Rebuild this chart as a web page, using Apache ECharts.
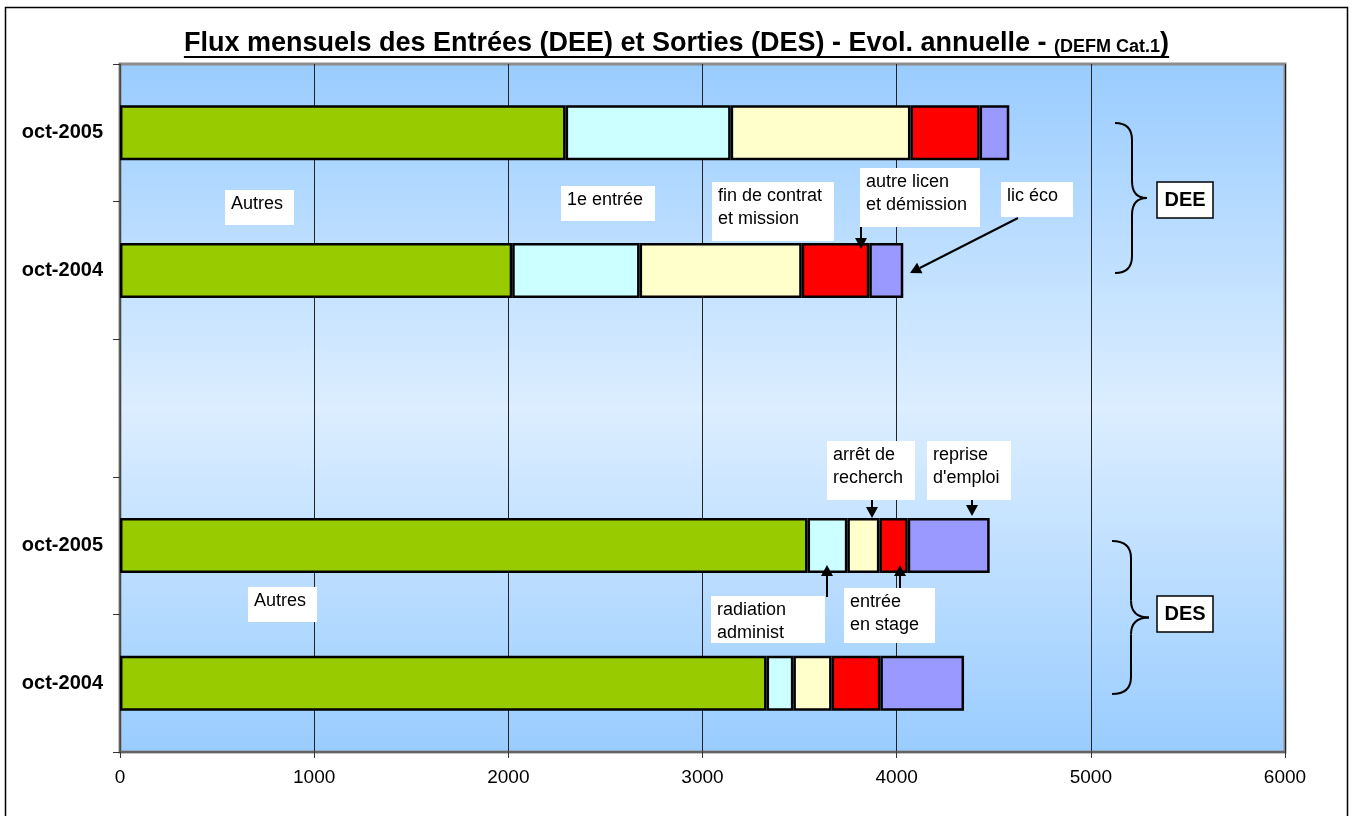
<!DOCTYPE html>
<html>
<head>
<meta charset="utf-8">
<script src="https://cdn.jsdelivr.net/npm/echarts@6/dist/echarts.min.js"></script>
<style>
html,body{margin:0;padding:0;background:#fff;}
#chart{width:1353px;height:816px;}
</style>
</head>
<body>
<div id="chart"></div>
<script>
// ---- data (bottom to top) ----
const categories = ['DES|oct-2004', 'DES|oct-2005', '|', 'DEE|oct-2004', 'DEE|oct-2005'];
const autres     = [3330, 3541, null, 2020, 2295];
const segment2   = [138, 205, null, 656, 850];   // radiation administ / 1e entrée
const segment3   = [197, 165, null, 835, 926];   // arrêt de recherch / fin de contrat et mission
const segment4   = [251, 146, null, 348, 356];   // entrée en stage / autre licen et démission
const segment5   = [431, 422, null, 175, 153];   // reprise d'emploi / lic éco
const xTicks     = [0, 1000, 2000, 3000, 4000, 5000, 6000];

const seriesDefs = [
  {name: 'Autres', data: autres, color: '#99CC00'},
  {name: 'Segment 2', data: segment2, color: '#CCFFFF'},
  {name: 'Segment 3', data: segment3, color: '#FFFFCC'},
  {name: 'Segment 4', data: segment4, color: '#FF0000'},
  {name: 'Segment 5', data: segment5, color: '#9999FF'}
];

const FONT = '"Liberation Sans", Arial, sans-serif';
const chart = echarts.init(document.getElementById('chart'), null, {renderer: 'canvas'});

// measure text for title/underline
const mctx = document.createElement('canvas').getContext('2d');
function tw(text, font) { mctx.font = font; return mctx.measureText(text).width; }

const titleMain = 'Flux mensuels des Entrées (DEE) et Sorties (DES) - Evol. annuelle - ';
const titleSmall = '(DEFM Cat.1';
const titleEnd = ')';
const sMain = 27, sSmall = 18;
const fMain = 'bold ' + sMain + 'px ' + FONT;
const fSmall = 'bold ' + sSmall + 'px ' + FONT;
const wMain = tw(titleMain, fMain), wSmall = tw(titleSmall, fSmall), wEnd = tw(titleEnd, fMain);
const tTotal = wMain + wSmall + wEnd;
const tX = 1353 / 2 - tTotal / 2;
const tBase = 53;

const graphics = [];
// outer border
graphics.push({type: 'rect', shape: {x: 5.5, y: 7.5, width: 1342, height: 830}, style: {fill: 'none', stroke: '#000', lineWidth: 1.5}, silent: true});
// title pieces
function ttext(x, text, font, size) {
  graphics.push({type: 'text', x: x, y: tBase - 0.35 * size, style: {text: text, font: font, fill: '#000', verticalAlign: 'middle', align: 'left'}});
}
ttext(tX, titleMain, fMain, sMain);
ttext(tX + wMain, titleSmall, fSmall, sSmall);
ttext(tX + wMain + wSmall, titleEnd, fMain, sMain);
graphics.push({type: 'line', shape: {x1: tX, y1: tBase + 4, x2: tX + tTotal, y2: tBase + 4}, style: {stroke: '#000', lineWidth: 2}});

// annotation boxes
const annFont = '18px ' + FONT;
const boxes = [
  [225, 190, 294, 225, 'Autres'],
  [561, 186, 655, 221, '1e entrée'],
  [712, 182, 834, 241, 'fin de contrat\net mission'],
  [860, 168, 980, 227, 'autre licen\net démission'],
  [1001, 182, 1073, 217, 'lic éco'],
  [827, 441, 915, 500, 'arrêt de\nrecherch'],
  [927, 441, 1011, 500, "reprise\nd'emploi"],
  [711, 596, 825, 643, 'radiation\nadminist'],
  [844, 588, 935, 643, 'entrée\nen stage'],
  [248, 587, 317, 622, 'Autres']
];
boxes.forEach(b => {
  graphics.push({type: 'rect', shape: {x: b[0], y: b[1], width: b[2] - b[0], height: b[3] - b[1]}, style: {fill: '#fff'}, z: 10});
  graphics.push({type: 'text', x: b[0] + 6, y: b[1] + 3, z: 11, style: {text: b[4], font: annFont, fill: '#000', lineHeight: 23, verticalAlign: 'top', align: 'left'}});
});

// arrows
function arrow(x1, y1, x2, y2) {
  const ang = Math.atan2(y2 - y1, x2 - x1);
  const L = 11, W = 6;
  const bx = x2 - L * Math.cos(ang), by = y2 - L * Math.sin(ang);
  const px = -Math.sin(ang) * W, py = Math.cos(ang) * W;
  graphics.push({type: 'line', z: 12, shape: {x1: x1, y1: y1, x2: bx, y2: by}, style: {stroke: '#000', lineWidth: 2}});
  graphics.push({type: 'polygon', z: 12, shape: {points: [[x2, y2], [bx + px, by + py], [bx - px, by - py]]}, style: {fill: '#000'}});
}
arrow(861, 227, 861, 249);
arrow(1018, 218, 910, 273);
arrow(872, 500, 872, 518);
arrow(972, 500, 972, 516);
arrow(827, 597, 827, 565);
arrow(900, 588, 900, 565);

// braces
function brace(xEnd, yTop, yBot, xBar, xTip) {
  const yMid = (yTop + yBot) / 2, r = 17;
  const st = {fill: 'none', stroke: '#000', lineWidth: 2};
  graphics.push({type: 'bezierCurve', z: 12, shape: {x1: xEnd, y1: yTop, cpx1: xBar, cpy1: yTop, x2: xBar, y2: yTop + r}, style: st});
  graphics.push({type: 'line', z: 12, shape: {x1: xBar, y1: yTop + r, x2: xBar, y2: yMid - r}, style: st});
  graphics.push({type: 'bezierCurve', z: 12, shape: {x1: xBar, y1: yMid - r, cpx1: xBar, cpy1: yMid, x2: xTip, y2: yMid}, style: st});
  graphics.push({type: 'bezierCurve', z: 12, shape: {x1: xTip, y1: yMid, cpx1: xBar, cpy1: yMid, x2: xBar, y2: yMid + r}, style: st});
  graphics.push({type: 'line', z: 12, shape: {x1: xBar, y1: yMid + r, x2: xBar, y2: yBot - r}, style: st});
  graphics.push({type: 'bezierCurve', z: 12, shape: {x1: xBar, y1: yBot - r, cpx1: xBar, cpy1: yBot, x2: xEnd, y2: yBot}, style: st});
}
brace(1115, 123, 273, 1132, 1147);
brace(1112, 541, 694, 1131, 1149);
[[1157, 182, 'DEE'], [1157, 596, 'DES']].forEach(d => {
  graphics.push({type: 'rect', z: 12, shape: {x: d[0], y: d[1], width: 56, height: 36}, style: {fill: '#fff', stroke: '#000', lineWidth: 1.5}});
  graphics.push({type: 'text', z: 13, x: d[0] + 28, y: d[1] + 18, style: {text: d[2], font: 'bold 20px ' + FONT, fill: '#000', align: 'center', verticalAlign: 'middle'}});
});

const option = {
  animation: false,
  backgroundColor: '#fff',
  grid: {
    left: 120, right: 68, top: 64, bottom: 64,
    show: true,
    backgroundColor: {type: 'linear', x: 0, y: 0, x2: 0, y2: 1, colorStops: [
      {offset: 0, color: '#99CCFF'}, {offset: 0.5, color: '#DCEEFF'}, {offset: 1, color: '#99CCFF'}
    ]},
    borderColor: '#8C8C8C', borderWidth: 3
  },
  xAxis: {
    type: 'value', min: xTicks[0], max: xTicks[xTicks.length - 1], interval: 1000,
    axisLine: {show: true, lineStyle: {color: '#555', width: 1.5}},
    axisTick: {show: true, length: 6, lineStyle: {color: '#333'}},
    splitLine: {show: true, lineStyle: {color: '#222', width: 1}},
    axisLabel: {color: '#000', fontFamily: FONT, fontSize: 19, margin: 16, formatter: v => String(v)}
  },
  yAxis: {
    type: 'category', data: categories,
    axisLine: {show: true, lineStyle: {color: '#555', width: 1.5}},
    axisTick: {show: true, length: 7, alignWithLabel: false, lineStyle: {color: '#333'}},
    splitLine: {show: false},
    axisLabel: {color: '#000', fontFamily: FONT, fontSize: 20, fontWeight: 'bold', margin: 17,
      formatter: v => v.split('|')[1]}
  },
  series: seriesDefs.map(s => ({
    name: s.name, type: 'bar', stack: 'total', data: s.data, barWidth: 55,
    itemStyle: {color: s.color, borderColor: '#000', borderWidth: 2.5},
    emphasis: {disabled: true}
  })),
  graphic: graphics
};
chart.setOption(option);
</script>
</body>
</html>
